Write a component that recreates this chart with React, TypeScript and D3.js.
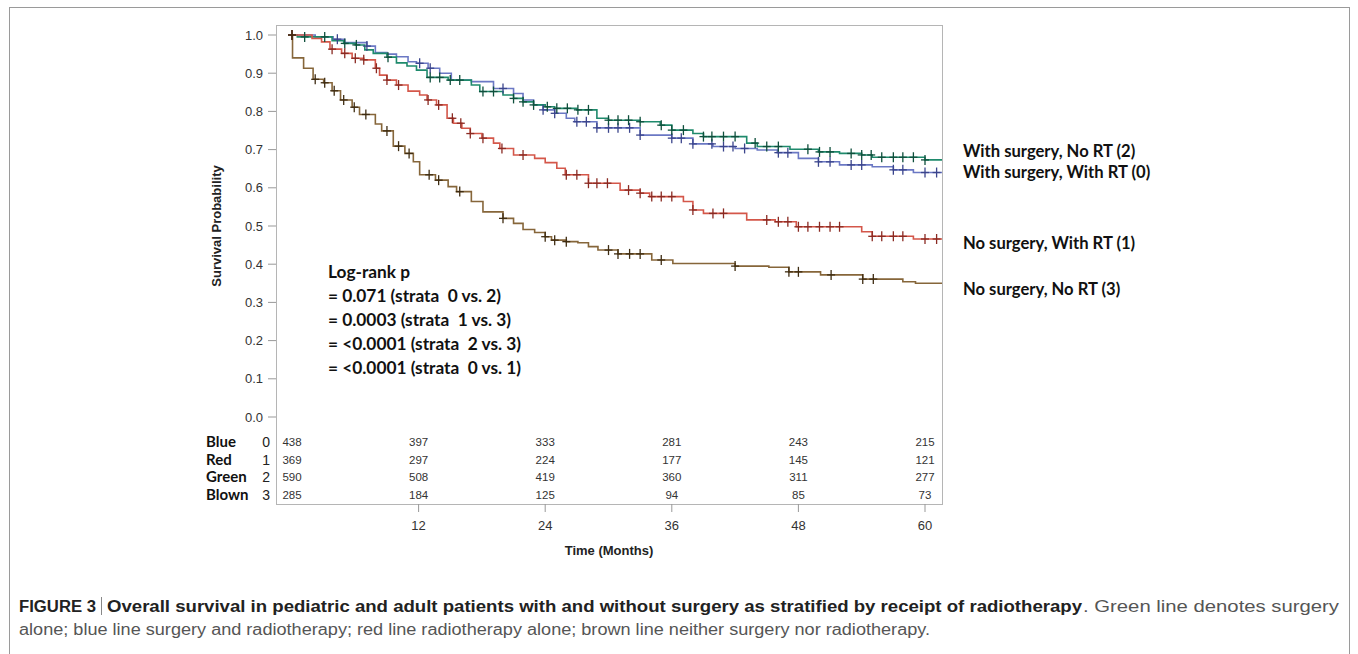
import React from "react";
import * as d3 from "d3";

// ---------- data (time in months, survival probability) ----------
const blueEvents: [number, number][] = [[2.2,0.995],[3.9,0.989],[5.0,0.980],[7.1,0.971],[7.9,0.954],[9.0,0.950],[9.9,0.943],[11.0,0.930],[11.8,0.926],[12.9,0.913],[14.0,0.900],[15.1,0.882],[17.0,0.878],[19.1,0.860],[21.0,0.847],[21.9,0.830],[22.9,0.817],[23.8,0.804],[24.9,0.795],[26.0,0.782],[26.8,0.773],[28.9,0.757],[33.0,0.738],[36.0,0.730],[38.0,0.715],[39.9,0.708],[42.0,0.703],[44.1,0.699],[46.0,0.692],[48.0,0.677],[49.9,0.668],[51.9,0.660],[55.0,0.655],[57.0,0.647],[58.9,0.640]];
const blueCensor: number[] = [4.3,7.1,12.1,13.1,20.0,23.8,24.9,27.0,27.9,28.9,30.0,30.9,32.0,33.0,36.0,36.9,38.0,39.8,40.9,41.8,42.9,46.1,47.0,49.9,51.0,53.0,54.0,57.0,57.9,60.0,61.1];

const greenEvents: [number, number][] = [[0.5,0.995],[3.8,0.985],[4.9,0.978],[6.0,0.974],[6.9,0.961],[7.7,0.952],[9.0,0.942],[9.9,0.927],[10.9,0.919],[11.8,0.908],[12.8,0.889],[14.8,0.882],[17.0,0.869],[17.8,0.852],[20.0,0.843],[21.0,0.834],[21.9,0.825],[22.9,0.817],[24.0,0.812],[24.9,0.808],[27.0,0.804],[28.9,0.782],[30.0,0.777],[33.0,0.773],[34.9,0.764],[36.0,0.751],[38.0,0.742],[39.0,0.734],[43.1,0.717],[44.1,0.708],[47.2,0.701],[49.9,0.694],[51.9,0.690],[54.0,0.686],[55.0,0.680],[60.0,0.673]];
const greenCensor: number[] = [0,1.2,3.1,5.0,6.1,9.1,13.1,14.0,15.0,15.9,18.1,19.1,21.0,21.9,22.9,24.2,25.1,26.1,27.1,28.1,30.0,30.9,31.9,33.0,35.0,36.0,37.1,39.0,39.8,40.9,42.0,43.9,45.0,46.1,48.9,50.0,51.0,53.0,54.0,54.9,55.9,57.0,57.9,58.9,60.0];

const redEvents: [number, number][] = [[1.9,0.991],[2.8,0.982],[3.6,0.963],[4.7,0.952],[5.7,0.939],[6.8,0.935],[7.9,0.913],[8.3,0.895],[9.0,0.882],[9.9,0.869],[11.0,0.853],[12.1,0.843],[12.8,0.830],[13.7,0.817],[14.7,0.782],[15.3,0.769],[16.1,0.756],[16.9,0.742],[18.0,0.730],[19.1,0.717],[19.7,0.703],[21.0,0.686],[23.0,0.677],[24.0,0.666],[25.1,0.651],[25.9,0.634],[28.1,0.612],[31.1,0.594],[33.0,0.586],[33.9,0.577],[37.1,0.564],[38.0,0.542],[39.0,0.533],[43.1,0.516],[45.8,0.511],[47.8,0.498],[54.0,0.485],[55.0,0.473],[58.9,0.466]];
const redCensor: number[] = [0,3.8,5.0,6.0,6.8,8.0,9.0,10.1,12.9,13.9,15.2,16.0,16.9,18.1,19.9,21.9,26.0,27.0,28.1,28.9,29.9,31.9,33.0,34.1,35.0,36.0,38.0,39.9,40.9,45.0,46.1,47.0,48.0,48.9,50.0,51.0,51.9,55.0,55.9,57.0,57.9,60.0,61.1];

const brownEvents: [number, number][] = [[0.05,0.940],[1.1,0.913],[2.0,0.884],[3.0,0.875],[3.8,0.854],[4.6,0.830],[5.7,0.811],[6.4,0.792],[7.9,0.767],[8.5,0.749],[9.6,0.709],[10.7,0.690],[11.5,0.668],[12.1,0.634],[13.6,0.620],[14.8,0.603],[15.6,0.590],[17.0,0.564],[18.1,0.537],[20.0,0.520],[21.0,0.507],[21.9,0.491],[23.0,0.483],[24.0,0.472],[24.6,0.463],[26.0,0.459],[27.1,0.456],[28.1,0.446],[29.0,0.437],[30.9,0.427],[34.1,0.411],[36.1,0.402],[42.0,0.395],[45.2,0.392],[47.1,0.380],[50.1,0.372],[54.1,0.361],[57.9,0.354],[59.1,0.350]];
const brownCensor: number[] = [0,2.2,3.1,4.0,4.9,5.9,7.0,9.0,10.1,11.1,13.0,13.9,15.9,20.0,24.0,24.9,26.0,30.0,30.9,32.0,33.0,35.0,42.0,47.1,48.0,51.1,54.1,55.1];

const riskTimes: number[] = [0, 12, 24, 36, 48, 60];
const riskBlue: number[] = [438, 397, 333, 281, 243, 215];
const riskRed: number[] = [369, 297, 224, 177, 145, 121];
const riskGreen: number[] = [590, 508, 419, 360, 311, 277];
const riskBrown: number[] = [285, 184, 125, 94, 85, 73];
const riskRowLabels: string[] = ["Blue", "Red", "Green", "Blown"];
const riskRowCodes: string[] = ["0", "1", "2", "3"];

const yTicks: number[] = [0, 0.1, 0.2, 0.3, 0.4, 0.5, 0.6, 0.7, 0.8, 0.9, 1.0];
const xTicks: number[] = [12, 24, 36, 48, 60];

const legendLabels: string[] = ["With surgery, No RT (2)", "With surgery, With RT (0)", "No surgery, With RT (1)", "No surgery, No RT (3)"];
const logRankLines: string[] = ["Log-rank p", "= 0.071 (strata  0 vs. 2)", "= 0.0003 (strata  1 vs. 3)", "= <0.0001 (strata  2 vs. 3)", "= <0.0001 (strata  0 vs. 1)"];

// ---------- layout ----------
const W = 1358, H = 654;
const plotL = 276, plotR = 942, plotT = 25, plotB = 504;
const x = d3.scaleLinear().domain([0, 60]).range([292, 925]);
const y = d3.scaleLinear().domain([0, 1]).range([417, 35]);
const tMax = x.invert(plotR);

const series = [
  { events: blueEvents, censor: blueCensor, color: "#6b78c4", mark: "#3b458c" },
  { events: greenEvents, censor: greenCensor, color: "#1f8a6c", mark: "#0f4f3c" },
  { events: redEvents, censor: redCensor, color: "#d4574a", mark: "#8a2a22" },
  { events: brownEvents, censor: brownCensor, color: "#86663a", mark: "#3e2c12" },
];

function survAt(events: [number, number][], t: number) {
  let s = 1;
  for (const [et, es] of events) { if (et <= t) s = es; else break; }
  return s;
}

const line = d3.line<[number, number]>().x(d => x(d[0])).y(d => y(d[1])).curve(d3.curveStepAfter);

const sans = "'Liberation Sans', Arial, sans-serif";
const calibri = "Lato, 'Open Sans', sans-serif";
const narrow = "'Liberation Sans Narrow', 'Liberation Sans', Arial, sans-serif";

export default function App() {
  const riskRows = [riskBlue, riskRed, riskGreen, riskBrown];
  const riskY = [442, 460, 477, 495];
  const legendY = [151, 172, 243, 289];
  return (
    <svg width={W} height={H} style={{ position: "absolute", left: 0, top: 0, background: "#fff" }}>
      <rect x={9.5} y={7.5} width={1340} height={660} fill="none" stroke="#9a9a9a" strokeWidth={1} />
      <rect x={plotL + 0.5} y={plotT + 0.5} width={plotR - plotL} height={plotB - plotT} fill="none" stroke="#b5b5b5" strokeWidth={1} />
      {yTicks.map(v => (
        <g key={"y" + v}>
          <line x1={268} x2={plotL} y1={y(v)} y2={y(v)} stroke="#999" />
          <text x={263} y={y(v) + 4.5} textAnchor="end" fontFamily={sans} fontSize={13} fill="#333">{v.toFixed(1)}</text>
        </g>
      ))}
      <text transform={`translate(221, ${y(0.5)}) rotate(-90)`} textAnchor="middle" fontFamily={sans} fontSize={13} fontWeight="bold" fill="#222">Survival Probability</text>
      {xTicks.map(v => (
        <g key={"x" + v}>
          <line x1={x(v)} x2={x(v)} y1={plotB} y2={plotB + 8} stroke="#999" />
          <text x={x(v)} y={530} textAnchor="middle" fontFamily={sans} fontSize={13} fill="#333">{v}</text>
        </g>
      ))}
      <text x={(plotL + plotR) / 2} y={555} textAnchor="middle" fontFamily={sans} fontSize={13} fontWeight="bold" fill="#222">Time (Months)</text>
      {series.map((s, i) => {
        const last = s.events[s.events.length - 1][1];
        const pts: [number, number][] = [[0, 1], ...s.events, [tMax, last]];
        return <path key={"c" + i} d={line(pts) || ""} fill="none" stroke={s.color} strokeWidth={1.6} />;
      })}
      {series.map((s, i) => (
        <g key={"m" + i} stroke={s.mark} strokeWidth={1.3}>
          {s.censor.map((t, j) => {
            const cx = x(t), cy = y(survAt(s.events, t));
            return (
              <g key={j}>
                <line x1={cx} x2={cx} y1={cy - 5} y2={cy + 5} />
                <line x1={cx - 4} x2={cx + 4} y1={cy} y2={cy} />
              </g>
            );
          })}
        </g>
      ))}
      {logRankLines.map((t, i) => (
        <text key={"lr" + i} x={328} y={278 + i * 24} fontFamily={calibri} fontSize={17.3} fontWeight="bold" fill="#111" style={{ whiteSpace: "pre" }}>{t}</text>
      ))}
      {riskRows.map((row, r) => (
        <g key={"r" + r}>
          <text x={206} y={riskY[r] + 5} fontFamily={calibri} fontSize={15} fontWeight="bold" fill="#111">{riskRowLabels[r]}</text>
          <text x={270} y={riskY[r] + 5} textAnchor="end" fontFamily={sans} fontSize={14} fill="#222">{riskRowCodes[r]}</text>
          {row.map((v, k) => (
            <text key={k} x={x(riskTimes[k])} y={riskY[r] + 4} textAnchor="middle" fontFamily={sans} fontSize={11.5} fill="#333">{v}</text>
          ))}
        </g>
      ))}
      {legendLabels.map((t, i) => (
        <text key={"lg" + i} x={963} y={legendY[i] + 6} fontFamily={calibri} fontSize={16.6} fontWeight="bold" fill="#111">{t}</text>
      ))}
      <text x={19} y={612} fontFamily={narrow} fontSize={16} fontWeight="bold" fill="#222" textLength={77} lengthAdjust="spacingAndGlyphs">FIGURE 3</text>
      <line x1={101.5} x2={101.5} y1={597} y2={615} stroke="#888" strokeWidth={1} />
      <text x={107} y={612} fontFamily={narrow} fontSize={16} fontWeight="bold" fill="#222" textLength={975} lengthAdjust="spacingAndGlyphs">Overall survival in pediatric and adult patients with and without surgery as stratified by receipt of radiotherapy</text>
      <text x={1083} y={612} fontFamily={narrow} fontSize={16} fill="#555" textLength={256} lengthAdjust="spacingAndGlyphs">. Green line denotes surgery</text>
      <text x={19} y={635} fontFamily={narrow} fontSize={16} fill="#555" textLength={911} lengthAdjust="spacingAndGlyphs">alone; blue line surgery and radiotherapy; red line radiotherapy alone; brown line neither surgery nor radiotherapy.</text>
    </svg>
  );
}
